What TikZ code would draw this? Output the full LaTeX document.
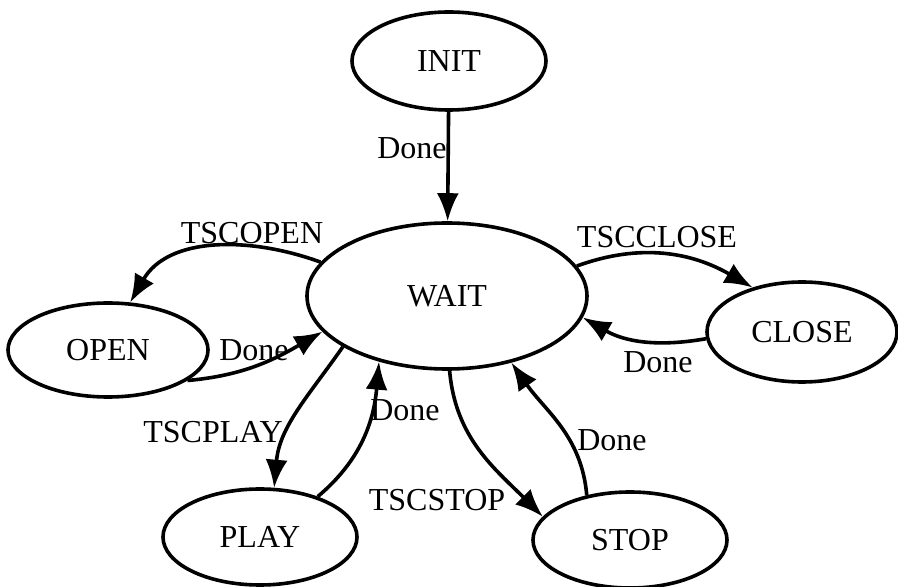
\documentclass[tikz,border=0pt]{standalone}
\usepackage{fontspec}
\setmainfont{Liberation Serif}
\usetikzlibrary{shapes.geometric,arrows.meta}

\begin{document}
\begin{tikzpicture}[x=1pt,y=1pt,line width=3.6pt,font=\fontsize{32}{36}\selectfont]
                        \tikzstyle{state}=[ellipse,draw,inner sep=0pt]
                        \tikzstyle{trans}=[-{Latex[length=28pt,width=22pt]}]
                        \useasboundingbox (0,0) rectangle (898,587);
                        % states
                        \node[state,minimum width=194pt,minimum height=98pt] (init) at (449,526) {INIT};
                        \node[state,minimum width=280pt,minimum height=146pt] (wait) at (447,291) {WAIT};
                        \node[state,minimum width=200pt,minimum height=94pt] (open) at (108,237) {OPEN};
                        \node[state,minimum width=190pt,minimum height=100pt] (close) at (802,255) {CLOSE};
                        \node[state,minimum width=194pt,minimum height=96pt] (play) at (260,50) {PLAY};
                        \node[state,minimum width=194pt,minimum height=96pt] (stop) at (630,47) {STOP};
                        % transitions
                        \draw[trans] (init) -- (wait);
                        \draw[trans] (wait.165) to[out=160,in=60] (open.65);
                        \draw[trans] (open.339) to[out=5,in=210] (wait.196);
                        \draw[trans] (wait.13) to[out=20,in=150] (close.138);
                        \draw[trans] (close.184) to[out=190,in=330] (wait.351);
                        \draw[trans] (wait.206) to[out=235,in=85] (play.74);
                        \draw[trans] (play.35) to[out=40,in=265] (wait.224);
                        \draw[trans] (wait.272) to[out=275,in=135] (stop.165);
                        \draw[trans] (stop.134) to[out=95,in=305] (wait.314);
                        % labels
                        \node (d1) at (412,439) {Done};
                        \node (l2) at (252,354) {TSCOPEN};
                        \node (d2) at (254,237) {Done};
                        \node (l3) at (657,350) {TSCCLOSE};
                        \node (d3) at (658,225) {Done};
                        \node (l4) at (213,155) {TSCPLAY};
                        \node (d4) at (405,177) {Done};
                        \node (l5) at (437,87) {TSCSTOP};
                        \node (d5) at (612,147) {Done};
                    \end{tikzpicture}
\end{document}
